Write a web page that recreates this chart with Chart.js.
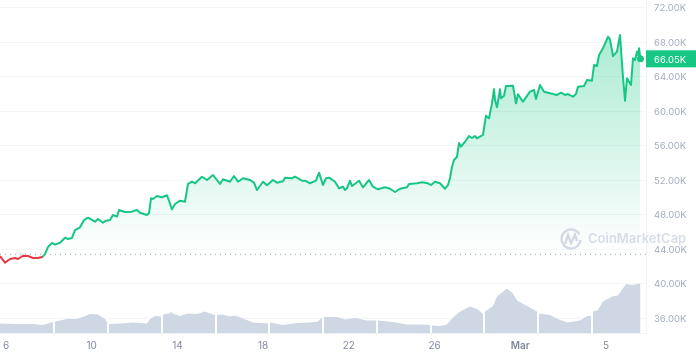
<!DOCTYPE html>
<html>
<head>
<meta charset="utf-8">
<style>
html,body{margin:0;padding:0;background:#fff}
canvas{display:block}
</style>
<script src="https://cdn.jsdelivr.net/npm/chart.js@4/dist/chart.umd.min.js"></script>
</head>
<body>
<canvas id="plot" width="696" height="356"></canvas>
<script>
// hours since Feb 6
const priceHours = [-6.7,-1.1,4.5,10.1,13.4,19,24.6,30.2,35.8,41.4,43.7,
  47,51.5,54.9,60.5,66.1,69.4,73.9,77.3,82.9,87.4,91.8,99.7,103,108.6,112,116.5,119.8,124.3,126.6,133.3,141.1,146.7,150.1,157.9,160.2,162.4,164.6,169.1,174.7,180.3,182.6,185.9,189.3,194.9,200.5,203.8,208.3,211.7,219.5,225.1,231.8,239.7,243,250.9,
  255.4,259.8,265.4,273.3,277.8,281.1,287.8,292.3,299,303.5,310.2,312.5,320.3,323.7,331.5,334.9,340.5,347.2,350.6,355,358.4,361.8,368.5,373,377.4,379.7,381.9,385.3,387.5,395.4,399.8,406.6,411,416.6,424.5,430.1,435.7,441.3,449.1,451.4,460.3,465.9,472.6,476,480.5,486.1,491.7,495,
  497.3,499.5,501.8,505.1,507.4,509.6,514.1,518.6,521.9,525.3,527.5,534.2,537.6,541,544.3,546.6,547.7,549.9,553.3,554.4,557.8,560,567.8,569,571.2,573.4,579,586.9,591.4,593.6,598.1,602.6,612.6,617.1,621.6,626.1,629.4,635,638.4,640.6,647.4,650.7,656.3,658.6,661.9,664.2,668.6,674.2,676.5,679.8,684.3,687.7,689.9,691,693.3,695.5,700,702.2,704.5,706.7,707.8,709,710.6];
const priceValues = [43190,42410,42840,42960,42840,43220,43190,42960,42960,43110,43420,
  44230,44700,44500,44730,45310,45160,45280,46200,46520,47360,47630,47170,47480,47050,47280,47360,47940,47750,48520,48290,48330,48520,48210,47940,48170,49880,49800,50150,50000,50230,49600,48600,49220,49600,49480,51540,51800,51620,52380,52000,52580,51540,52080,51800,
  52460,51800,52200,52000,51690,50840,51800,51390,52000,51690,51850,52270,52200,52380,51920,51920,51620,51920,52850,51420,52200,52270,51800,51040,51220,50840,51040,51920,51300,51920,51150,52000,51220,50920,51150,50990,50610,50990,51150,51540,51620,51730,51620,51420,51800,51620,50990,51420,
  52230,53540,54320,54700,56290,55860,56440,57100,56870,57100,56840,57220,59460,59150,60890,62520,61280,60430,62520,61470,61770,62900,62930,62240,60890,61940,61080,62240,62440,61390,63010,62240,61970,61860,62120,61860,61970,61660,61970,62820,62900,63590,63510,65330,65220,66490,67270,68610,68310,66380,66880,68810,65530,63980,61190,63790,63010,66110,65910,66880,66490,67270,66050];
const baselinePrice = 43390;

// volume blocks are broken by a null every 60 hours
const volumeHours = [-6.7,12.3,30.2,41.4,52.6,53.8,
  54.7,68.3,79.5,88.5,94.1,103,110.9,113.5,114.2,
  115.1,127.7,142.2,157.9,161.3,166.9,173.6,174.7,
  175.8,183.7,184.8,186.5,194.9,203.8,213.9,222.9,231.8,234.1,235.2,
  236.3,241.9,250.9,256.5,265.4,276.6,293.4,294.6,
  295.7,310.2,325.9,340.5,349.4,353.9,355,
  356.2,370.7,379.7,390.9,404.3,414.4,415.5,
  416.6,433.4,449.1,463.7,474.9,476,
  477.1,486.1,493.9,499.5,508.5,519.7,528.6,534.2,535.4,
  536.5,545.4,549.9,561.1,567.8,572.3,583.5,594.7,595.8,
  597,609.3,620.5,629.4,642.9,650.7,655.2,656.3,
  657.4,663,668.6,678.7,685.4,694.4,701.1,710.6];
const volumeValues = [19,18,18,16,22,null,
  23,28,28,34,38,37,28,21,null,
  18,19,21,19,28,34,33,null,
  37,39,43,39,34,39,38,43,37,36,null,
  36,37,33,35,29,21,19,null,
  21,16,20,21,23,31,null,
  32,32,27,30,25,25,null,
  25,22,17,17,16,null,
  15,14,17,29,43,53,47,38,null,
  43,54,73,89,79,65,54,43,null,
  39,36,26,21,25,34,34,null,
  43,46,63,73,75,98,96,99];

const xTicks = [0,96,192,288,384,480,576,672];
const xLabels = ["6","10","14","18","22","26","Mar","5"];
const priceTicks = [36000,40000,44000,48000,52000,56000,60000,64000,68000,72000];
const lastLabel = "66.05K";

const green = "#16c784";
const red = "#ea3943";
const pairs = (xs, ys) => xs.map((x, i) => ({x: x, y: ys[i]}));

function priceFill(ctx) {
  const s = ctx.chart.scales.y;
  if (!s) return "transparent";
  const g = ctx.chart.ctx.createLinearGradient(0, s.getPixelForValue(69000), 0, s.getPixelForValue(baselinePrice));
  g.addColorStop(0, "rgba(22,199,132,0.36)");
  g.addColorStop(1, "rgba(22,199,132,0)");
  return g;
}

const overlay = {
  id: "overlay",
  afterDraw(chart) {
    const c = chart.ctx, yPos = chart.scales.y.getPixelForValue(priceValues[priceValues.length - 1]);
    c.save();
    // watermark
    c.strokeStyle = "#d3dae6";
    c.lineWidth = 2.4;
    c.beginPath();
    c.arc(571, 239, 9.5, 0.1, Math.PI * 2 - 0.5);
    c.stroke();
    c.beginPath();
    c.moveTo(565, 244);
    c.lineTo(568, 235);
    c.lineTo(571, 243);
    c.lineTo(575, 235);
    c.lineTo(577, 241);
    c.stroke();
    c.fillStyle = "#d7dde8";
    c.font = "600 13px Inter";
    c.textAlign = "left";
    c.textBaseline = "middle";
    c.fillText("CoinMarketCap", 588, 239.5);
    // last price badge
    c.fillStyle = green;
    c.fillRect(646, yPos - 8.5, 50, 17);
    c.fillStyle = "#fff";
    c.font = "9.5px Inter";
    c.fillText(lastLabel, 654, yPos + 1);
    c.restore();
  }
};

new Chart(document.getElementById("plot"), {
  type: "line",
  plugins: [overlay],
  data: {
    datasets: [
      {
        data: pairs(priceHours, priceValues),
        yAxisID: "y",
        borderColor: green,
        borderWidth: 2,
        borderJoinStyle: "round",
        pointRadius: ctx => ctx.dataIndex === priceValues.length - 1 ? 3.5 : 0,
        pointBackgroundColor: green,
        pointBorderWidth: 0,
        fill: {target: {value: baselinePrice}, above: priceFill, below: "transparent"},
        segment: {borderColor: ctx => ctx.p1.parsed.y < baselinePrice ? red : undefined}
      },
      {
        data: [{x: -6.72, y: baselinePrice}, {x: 716.8, y: baselinePrice}],
        yAxisID: "y",
        borderColor: "#9aa3b5",
        borderWidth: 1,
        borderDash: [1, 4],
        pointRadius: 0,
        fill: false
      },
      {
        data: pairs(volumeHours, volumeValues),
        yAxisID: "yVol",
        borderWidth: 0,
        borderColor: "transparent",
        backgroundColor: "#cfd6e4",
        pointRadius: 0,
        spanGaps: false,
        fill: "origin"
      }
    ]
  },
  options: {
    responsive: false,
    animation: false,
    layout: {padding: 0, autoPadding: false},
    plugins: {legend: {display: false}, tooltip: {enabled: false}},
    scales: {
      x: {
        type: "linear",
        min: -6.72,
        max: 716.8,
        afterBuildTicks: axis => { axis.ticks = xTicks.map(v => ({value: v})); },
        afterFit: axis => { axis.height = 23; axis.paddingLeft = 0; axis.paddingRight = 0; },
        grid: {display: false, drawTicks: false},
        border: {display: true, color: "#f0f2f5"},
        ticks: {
          autoSkip: false,
          maxRotation: 0,
          padding: 7,
          color: "#808a9d",
          font: ctx => ({family: "Inter", size: 10, weight: ctx.index === 6 ? "600" : "400"}),
          callback: (v, i) => xLabels[i]
        }
      },
      y: {
        position: "right",
        min: 34261,
        max: 72870,
        afterBuildTicks: axis => { axis.ticks = priceTicks.map(v => ({value: v})); },
        afterFit: axis => { axis.width = 50; axis.paddingTop = 0; axis.paddingBottom = 0; },
        grid: {color: "#f4f5f8", drawTicks: false},
        border: {display: true, color: "#f0f2f5"},
        ticks: {
          padding: 8,
          labelOffset: 1,
          color: "#a3adc0",
          font: {family: "Inter", size: 9.5},
          callback: v => (v / 1000).toFixed(2) + "K"
        }
      },
      yVol: {display: false, min: 0, max: 666}
    }
  }
});
</script>
</body>
</html>
